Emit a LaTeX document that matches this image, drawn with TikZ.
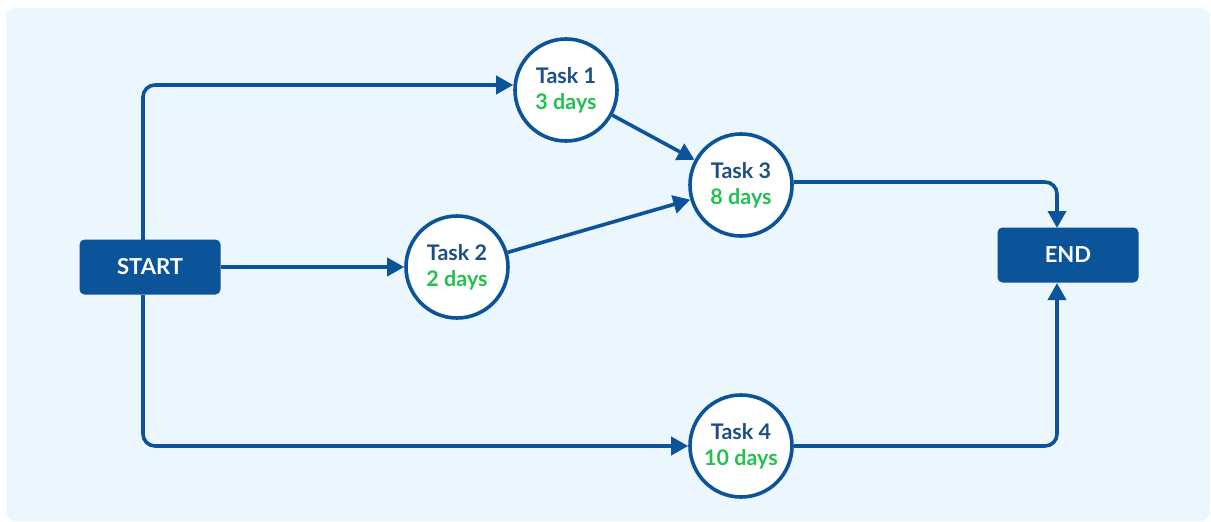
\documentclass[tikz,border=0pt]{standalone}
\usepackage{fontspec}
\setmainfont{Lato}
\usetikzlibrary{arrows.meta}
\definecolor{panelbg}{HTML}{EBF6FD}
\definecolor{mainblue}{HTML}{0B5499}
\definecolor{navy}{HTML}{1B4F86}
\definecolor{daygreen}{HTML}{22C152}
\tikzset{
  x=1pt, y=-1pt,
  task/.style={circle, draw=mainblue, line width=3.6pt, fill=white, minimum size=102pt, inner sep=0pt, align=center, font=\fontsize{21.5}{26}\selectfont\bfseries, text=navy},
  terminal/.style={rectangle, rounded corners=5pt, fill=mainblue, text=white, minimum width=141pt, minimum height=55pt, font=\fontsize{22}{26}\selectfont\bfseries},
  conn/.style={draw=mainblue, line width=3.6pt, rounded corners=12pt, -{Triangle[length=17pt,width=18pt]}},
}
\begin{document}
\begin{tikzpicture}
\useasboundingbox (0,0) rectangle (1211,522);
\fill[white] (0,0) rectangle (1211,522);
\fill[panelbg, rounded corners=10pt] (6,8) rectangle (1210,521);

\node[terminal] (start) at (150,267) {START};
\node[terminal] (end) at (1068,255) {END};
\node[task] (t1) at (566,90) {Task 1\\\textcolor{daygreen}{3 days}};
\node[task] (t2) at (457,267) {Task 2\\\textcolor{daygreen}{2 days}};
\node[task] (t3) at (741,185) {Task 3\\\textcolor{daygreen}{8 days}};
\node[task] (t4) at (741,446) {Task 4\\\textcolor{daygreen}{10 days}};

\coordinate (sTop) at (143,240);
\coordinate (sBot) at (143,295);
\coordinate (eTop) at (1057,228);
\coordinate (eBot) at (1057,283);

\draw[conn] (sTop) -- (143,85) -- (t1.west |- 0,85);
\draw[conn] (start.east) -- (t2.west);
\draw[conn] (sBot) -- (143,446) -- (t4.west);
\draw[conn] (t1) -- (t3);
\draw[conn] (t2) -- (t3);
\draw[conn] (t3.east |- 0,182) -- (1057,182) -- (eTop);
\draw[conn] (t4.east) -- (1057,446) -- (eBot);
\end{tikzpicture}
\end{document}
